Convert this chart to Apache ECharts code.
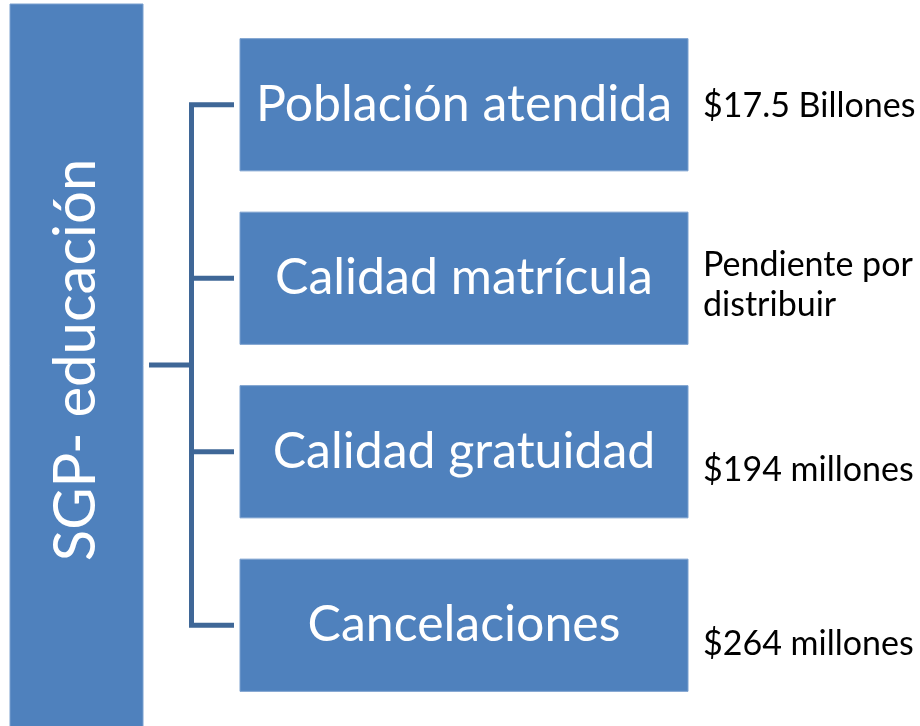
<!DOCTYPE html>
<html><head><meta charset="utf-8">
<script src="https://cdn.jsdelivr.net/npm/echarts@6/dist/echarts.min.js"></script>
<style>html,body{margin:0;padding:0;background:#fff}#c{width:920px;height:726px}</style>
</head><body><div id="c"></div>
<script>
const rootLabel = 'SGP- educación';
const categories = ['Población atendida', 'Calidad matrícula', 'Calidad gratuidad', 'Cancelaciones'];
const amounts = ['$17.5 Billones', 'Pendiente por\ndistribuir', '$194 millones', '$264 millones'];

const labelDy = [1, 7, 18, 19];
const FILL = '#4F81BD', EDGE = '#7BA0CF', LINE = '#3F6797';
const FONT = 'Lato, "Open Sans", sans-serif';

const chart = echarts.init(document.getElementById('c'));
chart.setOption({
  animation: false,
  grid: { left: 240, right: 232, top: 18, bottom: 14 },
  xAxis: { type: 'value', min: 0, max: 1, show: false },
  yAxis: { type: 'category', data: categories, inverse: true, show: false },
  series: [
    {
      type: 'custom',
      data: [[0, 0]],
      renderItem: function (params, api) {
        const cs = params.coordSys;
        const top = api.coord([0, 0])[1];
        const bot = api.coord([0, categories.length - 1])[1];
        const vx = cs.x - 48.5;
        const mid = (top + bot) / 2;
        const children = [
          { type: 'rect', shape: { x: cs.x - 230, y: 4, width: 133, height: api.getHeight() }, style: { fill: FILL, stroke: EDGE, lineWidth: 1 } },
          { type: 'text', x: cs.x - 164, y: mid - 5, rotation: Math.PI / 2,
            style: { text: rootLabel, align: 'center', verticalAlign: 'middle', fill: '#fff', font: '400 58px ' + FONT } },
          { type: 'line', shape: { x1: cs.x - 91, y1: mid, x2: vx, y2: mid }, style: { stroke: LINE, lineWidth: 5 } },
          { type: 'polyline', shape: { points: [[cs.x - 6, top], [vx, top], [vx, bot], [cs.x - 6, bot]] }, style: { stroke: LINE, lineWidth: 5, lineJoin: 'miter', fill: null } }
        ];
        return { type: 'group', children: children };
      }
    },
    {
      type: 'custom',
      data: categories.map((c, i) => [0, i]),
      renderItem: function (params, api) {
        const i = params.dataIndex;
        const p0 = api.coord([0, api.value(1)]);
        const p1 = api.coord([1, api.value(1)]);
        const band = api.size([1, 1])[1];
        const bh = band * 0.762;
        const cy = p0[1];
        const children = [
          { type: 'rect', shape: { x: p0[0], y: cy - bh / 2, width: p1[0] - p0[0], height: bh }, style: { fill: FILL, stroke: EDGE, lineWidth: 1 } },
          { type: 'text', x: (p0[0] + p1[0]) / 2, y: cy, style: { text: categories[i], align: 'center', verticalAlign: 'middle', fill: '#fff', font: '400 50px ' + FONT } },
          { type: 'text', x: p1[0] + 15, y: cy + labelDy[i], style: { text: amounts[i], align: 'left', verticalAlign: 'middle', fill: '#000', font: '400 34px ' + FONT, lineHeight: 40 } }
        ];
        if (i > 0 && i < categories.length - 1) {
          children.push({ type: 'line', shape: { x1: p0[0] - 50, y1: cy, x2: p0[0] - 6, y2: cy }, style: { stroke: LINE, lineWidth: 5 } });
        }
        return { type: 'group', children: children };
      }
    }
  ]
});
</script></body></html>
